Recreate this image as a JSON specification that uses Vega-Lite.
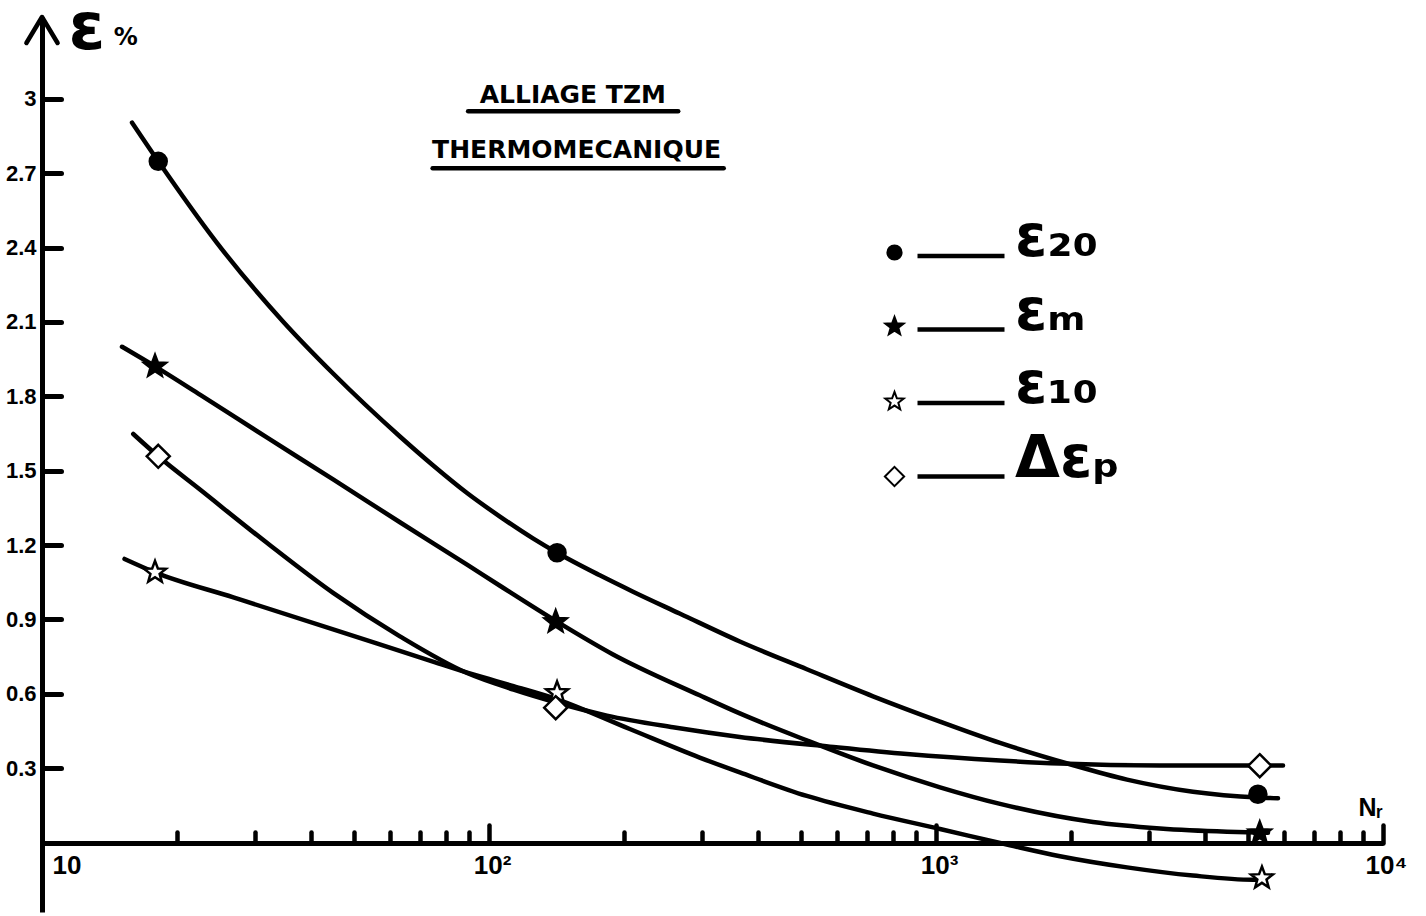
{
  "$schema": "https://vega.github.io/schema/vega-lite/v6.json",
  "width": 1341,
  "height": 895,
  "autosize": "none",
  "padding": {"left": 42, "top": 17, "right": 43, "bottom": 4},
  "background": "white",
  "config": {"view": {"stroke": null}},
  "datasets": {
    "courbes": [
      {"serie": "ε₂₀", "N": 15.9, "eps": 2.904},
      {"serie": "ε₂₀", "N": 18.2, "eps": 2.748},
      {"serie": "ε₂₀", "N": 24.6, "eps": 2.420},
      {"serie": "ε₂₀", "N": 34.6, "eps": 2.102},
      {"serie": "ε₂₀", "N": 44.8, "eps": 1.892},
      {"serie": "ε₂₀", "N": 63.2, "eps": 1.638},
      {"serie": "ε₂₀", "N": 74.9, "eps": 1.522},
      {"serie": "ε₂₀", "N": 89.3, "eps": 1.410},
      {"serie": "ε₂₀", "N": 105.8, "eps": 1.315},
      {"serie": "ε₂₀", "N": 125.4, "eps": 1.227},
      {"serie": "ε₂₀", "N": 142, "eps": 1.169},
      {"serie": "ε₂₀", "N": 177, "eps": 1.078},
      {"serie": "ε₂₀", "N": 210, "eps": 1.012},
      {"serie": "ε₂₀", "N": 267, "eps": 0.924},
      {"serie": "ε₂₀", "N": 364, "eps": 0.811},
      {"serie": "ε₂₀", "N": 514, "eps": 0.699},
      {"serie": "ε₂₀", "N": 723, "eps": 0.590},
      {"serie": "ε₂₀", "N": 1021, "eps": 0.488},
      {"serie": "ε₂₀", "N": 1391, "eps": 0.402},
      {"serie": "ε₂₀", "N": 1994, "eps": 0.316},
      {"serie": "ε₂₀", "N": 2675, "eps": 0.254},
      {"serie": "ε₂₀", "N": 3757, "eps": 0.205},
      {"serie": "ε₂₀", "N": 5253, "eps": 0.182},
      {"serie": "ε₂₀", "N": 5823, "eps": 0.179},
      {"serie": "εₘ", "N": 15.1, "eps": 2.000},
      {"serie": "εₘ", "N": 17.9, "eps": 1.921},
      {"serie": "εₘ", "N": 22.6, "eps": 1.806},
      {"serie": "εₘ", "N": 31.9, "eps": 1.633},
      {"serie": "εₘ", "N": 44.8, "eps": 1.465},
      {"serie": "εₘ", "N": 63.2, "eps": 1.292},
      {"serie": "εₘ", "N": 89.3, "eps": 1.121},
      {"serie": "εₘ", "N": 105.8, "eps": 1.036},
      {"serie": "εₘ", "N": 142, "eps": 0.891},
      {"serie": "εₘ", "N": 189, "eps": 0.760},
      {"serie": "εₘ", "N": 296, "eps": 0.594},
      {"serie": "εₘ", "N": 364, "eps": 0.521},
      {"serie": "εₘ", "N": 514, "eps": 0.412},
      {"serie": "εₘ", "N": 723, "eps": 0.311},
      {"serie": "εₘ", "N": 1021, "eps": 0.223},
      {"serie": "εₘ", "N": 1391, "eps": 0.156},
      {"serie": "εₘ", "N": 2245, "eps": 0.083},
      {"serie": "εₘ", "N": 3170, "eps": 0.057},
      {"serie": "εₘ", "N": 4477, "eps": 0.044},
      {"serie": "εₘ", "N": 5530, "eps": 0.040},
      {"serie": "ε₁₀", "N": 15.3, "eps": 1.144},
      {"serie": "ε₁₀", "N": 17.9, "eps": 1.090},
      {"serie": "ε₁₀", "N": 26.8, "eps": 0.989},
      {"serie": "ε₁₀", "N": 44.8, "eps": 0.860},
      {"serie": "ε₁₀", "N": 74.9, "eps": 0.730},
      {"serie": "ε₁₀", "N": 92.2, "eps": 0.678},
      {"serie": "ε₁₀", "N": 113.5, "eps": 0.631},
      {"serie": "ε₁₀", "N": 142, "eps": 0.578},
      {"serie": "ε₁₀", "N": 206.5, "eps": 0.458},
      {"serie": "ε₁₀", "N": 296, "eps": 0.343},
      {"serie": "ε₁₀", "N": 364, "eps": 0.283},
      {"serie": "ε₁₀", "N": 514, "eps": 0.188},
      {"serie": "ε₁₀", "N": 723, "eps": 0.117},
      {"serie": "ε₁₀", "N": 1021, "eps": 0.055},
      {"serie": "ε₁₀", "N": 1464, "eps": -0.011},
      {"serie": "ε₁₀", "N": 1894, "eps": -0.055},
      {"serie": "ε₁₀", "N": 2675, "eps": -0.100},
      {"serie": "ε₁₀", "N": 3757, "eps": -0.133},
      {"serie": "ε₁₀", "N": 5120, "eps": -0.150},
      {"serie": "ε₁₀", "N": 5362, "eps": -0.149},
      {"serie": "Δεₚ", "N": 16.0, "eps": 1.648},
      {"serie": "Δεₚ", "N": 18.2, "eps": 1.558},
      {"serie": "Δεₚ", "N": 22.6, "eps": 1.423},
      {"serie": "Δεₚ", "N": 31.9, "eps": 1.208},
      {"serie": "Δεₚ", "N": 44.8, "eps": 1.007},
      {"serie": "Δεₚ", "N": 63.2, "eps": 0.832},
      {"serie": "Δεₚ", "N": 89.3, "eps": 0.684},
      {"serie": "Δεₚ", "N": 113.5, "eps": 0.617},
      {"serie": "Δεₚ", "N": 142, "eps": 0.564},
      {"serie": "Δεₚ", "N": 183.6, "eps": 0.512},
      {"serie": "Δεₚ", "N": 258, "eps": 0.465},
      {"serie": "Δεₚ", "N": 364, "eps": 0.426},
      {"serie": "Δεₚ", "N": 579, "eps": 0.387},
      {"serie": "Δεₚ", "N": 861, "eps": 0.357},
      {"serie": "Δεₚ", "N": 1391, "eps": 0.331},
      {"serie": "Δεₚ", "N": 1894, "eps": 0.319},
      {"serie": "Δεₚ", "N": 3170, "eps": 0.311},
      {"serie": "Δεₚ", "N": 5975, "eps": 0.311}
    ],
    "mesures": [
      {"serie": "ε₂₀", "N": 18.2, "eps": 2.748},
      {"serie": "ε₂₀", "N": 142, "eps": 1.169},
      {"serie": "ε₂₀", "N": 5250, "eps": 0.195},
      {"serie": "εₘ", "N": 17.9, "eps": 1.921},
      {"serie": "εₘ", "N": 141, "eps": 0.89},
      {"serie": "εₘ", "N": 5300, "eps": 0.038},
      {"serie": "ε₁₀", "N": 17.9, "eps": 1.09},
      {"serie": "ε₁₀", "N": 142, "eps": 0.604},
      {"serie": "ε₁₀", "N": 5360, "eps": -0.143},
      {"serie": "Δεₚ", "N": 18.2, "eps": 1.558},
      {"serie": "Δεₚ", "N": 141, "eps": 0.544},
      {"serie": "Δεₚ", "N": 5300, "eps": 0.31}
    ]
  },
  "layer": [
    {
      "data": {"name": "courbes"},
      "mark": {"type": "line", "interpolate": "monotone", "strokeWidth": 4.5, "strokeCap": "round", "strokeJoin": "round"},
      "encoding": {
        "x": {
          "field": "N", "type": "quantitative",
          "scale": {"type": "log", "domain": [10, 10000]},
          "axis": {
            "title": "Nᵣ", "titleX": 1316, "titleY": -28, "titleAlign": "left", "titleBaseline": "alphabetic", "titleAngle": 0,
            "titleFont": "Liberation Sans", "titleFontSize": 25, "titleFontWeight": "bold", "titleColor": "black",
            "offset": -69,
            "values": [10, 20, 30, 40, 50, 60, 70, 80, 90, 100, 200, 300, 400, 500, 600, 700, 800, 900, 1000, 2000, 3000, 4000, 5000, 6000, 7000, 8000, 9000, 10000],
            "labelExpr": "datum.value == 10 ? '10' : datum.value == 100 ? '10²' : datum.value == 1000 ? '10³' : datum.value == 10000 ? '10⁴' : ''",
            "labelAlign": {"condition": {"test": "datum.value == 10", "value": "left"}, "value": "center"},
            "labelOffset": {"condition": {"test": "datum.value == 10", "value": 10}, "value": 3},
            "labelPadding": 27, "labelBaseline": "top",
            "labelFont": "Liberation Sans", "labelFontSize": 26, "labelFontWeight": "bold", "labelColor": "black",
            "labelFlush": false, "labelOverlap": false,
            "tickSize": {"condition": {"test": "datum.value == 10 || datum.value == 100 || datum.value == 1000 || datum.value == 10000", "value": -18}, "value": -11},
            "tickWidth": 4.5, "tickColor": "black", "tickCap": "round",
            "domainColor": "black", "domainWidth": 5, "grid": false
          }
        },
        "y": {
          "field": "eps", "type": "quantitative",
          "scale": {"domain": [-0.28, 3.33], "nice": false, "zero": false},
          "axis": {
            "title": "ε", "titleAngle": 0, "titleAlign": "left", "titleBaseline": "alphabetic", "titleX": 26, "titleY": 31,
            "titleFont": "DejaVu Sans", "titleFontWeight": "bold", "titleFontSize": 66, "titleColor": "black", "titlePadding": 0,
            "values": [0.3, 0.6, 0.9, 1.2, 1.5, 1.8, 2.1, 2.4, 2.7, 3],
            "labelExpr": "datum.value == 3 ? '3' : format(datum.value, '.1f')",
            "labelFont": "Liberation Sans", "labelFontWeight": "bold", "labelFontSize": 22, "labelColor": "black",
            "labelPadding": 25, "labelAlign": "right", "labelBaseline": "middle",
            "tickSize": -19, "tickWidth": 5, "tickColor": "black", "tickCap": "round",
            "domainColor": "black", "domainWidth": 5, "grid": false
          }
        },
        "color": {
          "field": "serie", "type": "nominal",
          "sort": ["ε₂₀", "εₘ", "ε₁₀", "Δεₚ"],
          "scale": {"range": ["black", "black", "black", "black"]},
          "legend": {
            "orient": "none", "legendX": 873, "legendY": 193, "title": null, "padding": 0,
            "symbolType": "stroke", "symbolSize": 7569, "symbolStrokeWidth": 4.5,
            "labelFont": "DejaVu Sans", "labelFontWeight": "bold", "labelFontSize": 58, "labelColor": "black",
            "labelBaseline": "alphabetic", "labelOffset": 8, "rowPadding": 15.5
          }
        }
      }
    },
    {
      "data": {"name": "mesures"},
      "mark": {"type": "point", "filled": true, "strokeWidth": 2.5, "size": 400, "opacity": 1},
      "encoding": {
        "x": {"field": "N", "type": "quantitative"},
        "y": {"field": "eps", "type": "quantitative"},
        "shape": {
          "field": "serie", "type": "nominal",
          "scale": {
            "domain": ["ε₂₀", "εₘ", "ε₁₀", "Δεₚ"],
            "range": [
              "M-0.85,0A0.85,0.85 0 1,0 0.85,0A0.85,0.85 0 1,0 -0.85,0Z",
              "M0,-1.15L0.284,-0.391L1.094,-0.355L0.459,0.15L0.676,0.93L0,0.483L-0.676,0.93L-0.459,0.15L-1.094,-0.355L-0.284,-0.391Z",
              "M0,-1.15L0.284,-0.391L1.094,-0.355L0.459,0.15L0.676,0.93L0,0.483L-0.676,0.93L-0.459,0.15L-1.094,-0.355L-0.284,-0.391Z",
              "M0,-1.15L1.15,0L0,1.15L-1.15,0Z"
            ]
          },
          "legend": {
            "orient": "none", "legendX": 843, "legendY": 226, "title": null, "padding": 0,
            "symbolSize": 280, "symbolStrokeWidth": 2,
            "labelExpr": "''", "labelFontSize": 1, "rowPadding": 48
          }
        },
        "fill": {
          "field": "serie", "type": "nominal",
          "scale": {"domain": ["ε₂₀", "εₘ", "ε₁₀", "Δεₚ"], "range": ["black", "black", "white", "white"]},
          "legend": {
            "orient": "none", "legendX": 843, "legendY": 226, "title": null, "padding": 0,
            "symbolSize": 280, "symbolStrokeWidth": 2,
            "labelExpr": "''", "labelFontSize": 1, "rowPadding": 48
          }
        },
        "stroke": {
          "field": "serie", "type": "nominal",
          "scale": {"domain": ["ε₂₀", "εₘ", "ε₁₀", "Δεₚ"], "range": ["black", "black", "black", "black"]},
          "legend": {
            "orient": "none", "legendX": 843, "legendY": 226, "title": null, "padding": 0,
            "symbolSize": 280, "symbolStrokeWidth": 2,
            "labelExpr": "''", "labelFontSize": 1, "rowPadding": 48
          }
        }
      }
    },
    {
      "data": {"values": [{}]},
      "mark": {"type": "point", "shape": "M-0.6,1L0,0L0.6,1", "size": 2704, "filled": false, "stroke": "black", "strokeWidth": 4.5, "strokeCap": "round", "strokeJoin": "round", "opacity": 1},
      "encoding": {"x": {"datum": 10}, "y": {"datum": 3.33}}
    },
    {
      "data": {"values": [{}]},
      "mark": {"type": "text", "text": "%", "font": "DejaVu Sans", "fontWeight": "bold", "fontSize": 24, "align": "center", "baseline": "alphabetic", "color": "black"},
      "encoding": {"x": {"datum": 15.4}, "y": {"datum": 3.218}}
    },
    {
      "data": {"values": [{}]},
      "mark": {"type": "text", "text": "ALLIAGE TZM", "font": "DejaVu Sans", "fontWeight": "bold", "fontSize": 25, "align": "center", "baseline": "middle", "color": "black"},
      "encoding": {"x": {"datum": 154}, "y": {"datum": 3.016}}
    },
    {
      "data": {"values": [{}]},
      "mark": {"type": "text", "text": "THERMOMECANIQUE", "font": "DejaVu Sans", "fontWeight": "bold", "fontSize": 25, "align": "center", "baseline": "middle", "color": "black"},
      "encoding": {"x": {"datum": 157}, "y": {"datum": 2.794}}
    },
    {
      "data": {"values": [{}]},
      "mark": {"type": "rule", "strokeWidth": 4.5, "strokeCap": "round", "color": "black"},
      "encoding": {"x": {"datum": 89.8}, "x2": {"datum": 265}, "y": {"datum": 2.95}}
    },
    {
      "data": {"values": [{}]},
      "mark": {"type": "rule", "strokeWidth": 4.5, "strokeCap": "round", "color": "black"},
      "encoding": {"x": {"datum": 74.8}, "x2": {"datum": 335}, "y": {"datum": 2.72}}
    }
  ]
}
